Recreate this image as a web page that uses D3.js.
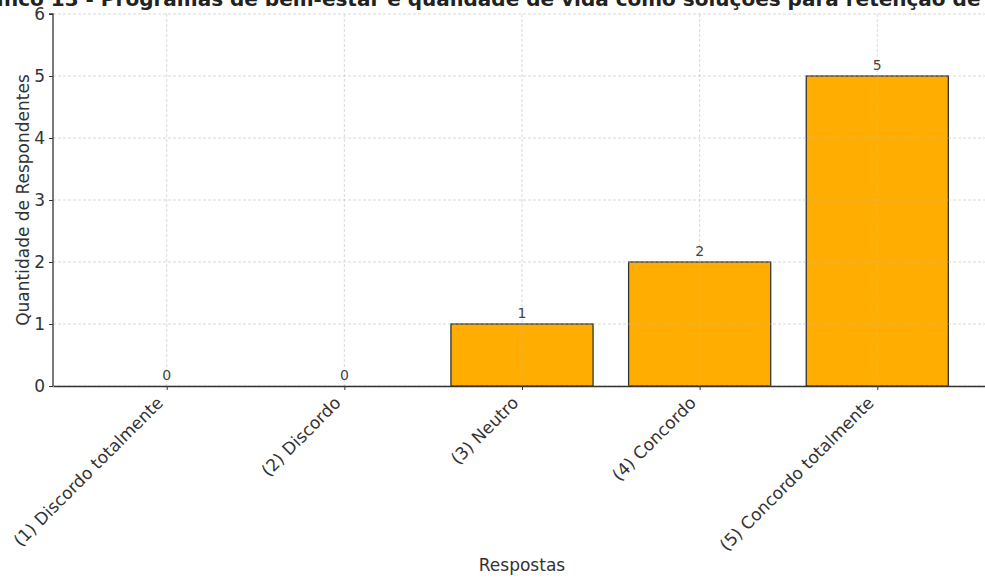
<!DOCTYPE html>
<html>
<head>
<meta charset="utf-8">
<script src="https://cdn.jsdelivr.net/npm/d3@7"></script>
<style>
  body { margin: 0; background: #fff; }
  svg { display: block; font-family: "DejaVu Sans", sans-serif; }
</style>
</head>
<body>
<div id="main"></div>
<script>
const Width = 985, Height = 578;

const categories = ["(1) Discordo totalmente", "(2) Discordo", "(3) Neutro", "(4) Concordo", "(5) Concordo totalmente"];
const values = [0, 0, 1, 2, 5];
const yTicks = [0, 1, 2, 3, 4, 5, 6];
const title = "Gráfico 13 - Programas de bem-estar e qualidade de vida como soluções para retenção de talentos";

const svg = d3.select("#main")
    .append("svg")
    .attr("width", Width)
    .attr("height", Height);

const margin = {left: 53, top: 14, right: -6, bottom: 192};

// matplotlib-like x limits: -0.64 .. 4.64, bars 0.8 wide
const Xscale = d3.scaleLinear().domain([-0.64, 4.64]).range([margin.left, Width - margin.right]);
const Yscale = d3.scaleLinear().domain([0, 6]).range([Height - margin.bottom, margin.top]);
const barW = 0.8;

// bars
svg.append("g").selectAll("rect").data(values).enter().append("rect")
    .attr("x", (d, i) => Xscale(i - barW / 2))
    .attr("y", d => Yscale(d))
    .attr("width", Xscale(barW) - Xscale(0))
    .attr("height", d => Yscale(0) - Yscale(d))
    .attr("fill", "#ffad00")
    .attr("stroke", "#333")
    .attr("stroke-width", 1.3);

// grid (drawn over bars, like the reference)
const grid = svg.append("g").attr("stroke", "#bbb").attr("stroke-opacity", 0.7)
    .attr("stroke-dasharray", "3,2").attr("stroke-width", 0.8);
grid.selectAll(".gy").data(yTicks).enter().append("line")
    .attr("x1", margin.left).attr("x2", Width)
    .attr("y1", d => Yscale(d)).attr("y2", d => Yscale(d));
grid.selectAll(".gx").data(categories).enter().append("line")
    .attr("x1", (d, i) => Xscale(i)).attr("x2", (d, i) => Xscale(i))
    .attr("y1", margin.top).attr("y2", Yscale(0));

// axes
const yAxis = svg.append("g")
    .attr("transform", `translate(${margin.left},0)`)
    .call(d3.axisLeft(Yscale).tickValues(yTicks).tickFormat(d3.format("d")).tickSize(4).tickPadding(4));
const xAxis = svg.append("g")
    .attr("transform", `translate(0,${Yscale(0)})`)
    .call(d3.axisBottom(Xscale).tickValues(d3.range(categories.length)).tickFormat(i => categories[i]).tickSize(4).tickSizeOuter(0));

[yAxis, xAxis].forEach(a => {
    a.select(".domain").attr("stroke", "#333").attr("stroke-width", 1.3);
    a.selectAll(".tick line").attr("stroke", "#333").attr("stroke-width", 1);
    a.selectAll("text").attr("fill", "#333").style("font-size", "17px").style("font-family", "DejaVu Sans, sans-serif");
});
yAxis.select(".domain").attr("d", `M-4,${Yscale(6)}H0V${Yscale(0)}`);

xAxis.selectAll(".tick text")
    .attr("text-anchor", "end")
    .attr("y", 0)
    .attr("dy", 0)
    .attr("transform", "translate(-3,18) rotate(-45)");

// value labels
svg.append("g").selectAll("text").data(values).enter().append("text")
    .attr("x", (d, i) => Xscale(i))
    .attr("y", d => Yscale(d) - 6)
    .attr("text-anchor", "middle")
    .attr("fill", "#444")
    .style("font-size", "14px")
    .text(d => d);

// titles
svg.append("text")
    .attr("x", (Xscale(-0.64) + Xscale(4.64)) / 2)
    .attr("y", 6)
    .attr("text-anchor", "middle")
    .attr("fill", "#222")
    .style("font-size", "20px")
    .style("font-weight", "bold")
    .text(title);

svg.append("text")
    .attr("x", (Xscale(-0.64) + Xscale(4.64)) / 2)
    .attr("y", 571)
    .attr("text-anchor", "middle")
    .attr("fill", "#333")
    .style("font-size", "17px")
    .text("Respostas");

svg.append("text")
    .attr("transform", `translate(29,${Yscale(3)}) rotate(-90)`)
    .attr("text-anchor", "middle")
    .attr("fill", "#333")
    .style("font-size", "17px")
    .text("Quantidade de Respondentes");
</script>
</body>
</html>
